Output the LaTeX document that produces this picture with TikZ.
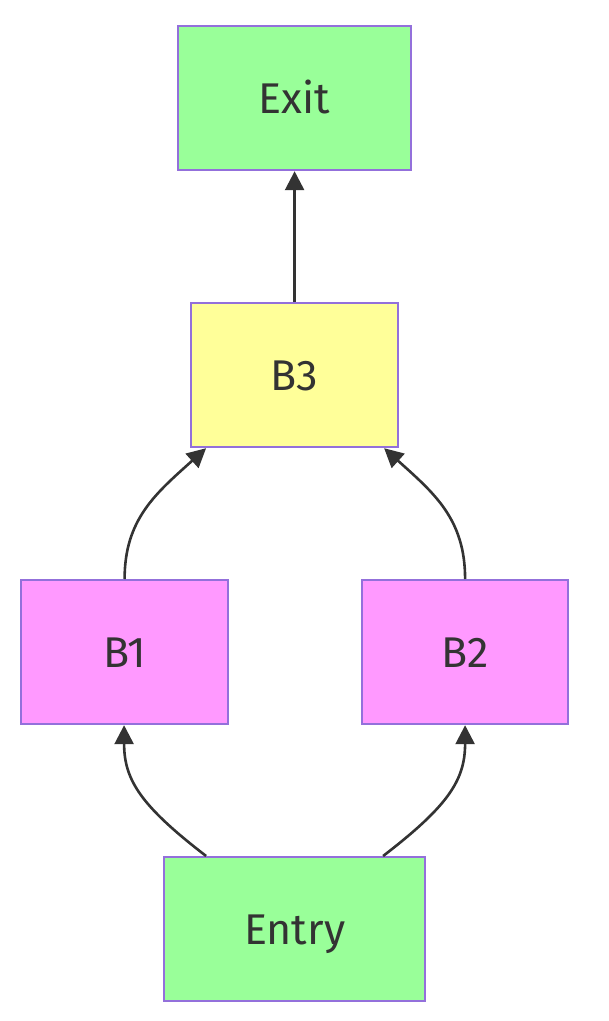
\documentclass[tikz,border=0pt]{standalone}
\usepackage{fontspec}
\setmainfont{Fira Sans}
\usetikzlibrary{arrows.meta}
\definecolor{nodeedge}{HTML}{9370DB}
\definecolor{greenfill}{HTML}{99FF99}
\definecolor{yellowfill}{HTML}{FFFF99}
\definecolor{pinkfill}{HTML}{FF99FF}
\definecolor{ink}{HTML}{333333}
\begin{document}
\begin{tikzpicture}[x=1pt,y=-1pt,
  block/.style={draw=nodeedge, line width=2.2pt, text=ink, font=\fontsize{43}{50}\selectfont,
    inner sep=0pt, text height=30pt, text depth=0pt, anchor=north west},
  flow/.style={draw=ink, line width=2.6pt, -{Triangle[length=19pt,width=19pt]}}]
\useasboundingbox (0,0) rectangle (609,1021);
% blocks, given by their corners
\node[block, fill=greenfill, minimum width=233pt, minimum height=144pt] (exit) at (177,25) {Exit};
\node[block, fill=yellowfill, minimum width=207pt, minimum height=144pt] (b3) at (190,302) {B3};
\node[block, fill=pinkfill, minimum width=207pt, minimum height=144pt] (b1) at (20,579) {B1};
\node[block, fill=pinkfill, minimum width=206pt, minimum height=144pt] (b2) at (361,579) {B2};
\node[block, fill=greenfill, minimum width=261pt, minimum height=144pt] (entry) at (163,856) {Entry};
% connectors
\draw[flow] ([xshift=-88.5pt]entry.north) .. controls +(-65,-50) and +(0,55) .. ([xshift=-0.5pt]b1.south);
\draw[flow] ([xshift=88.5pt]entry.north) .. controls +(65,-50) and +(0,55) .. ([xshift=0pt]b2.south);
\draw[flow] (b1.north) .. controls +(0,-60) and +(-50,45) .. ([xshift=-88.5pt]b3.south);
\draw[flow] (b2.north) .. controls +(0,-60) and +(50,45) .. ([xshift=89.5pt]b3.south);
\draw[flow] (b3.north) -- (exit.south);
\end{tikzpicture}
\end{document}
